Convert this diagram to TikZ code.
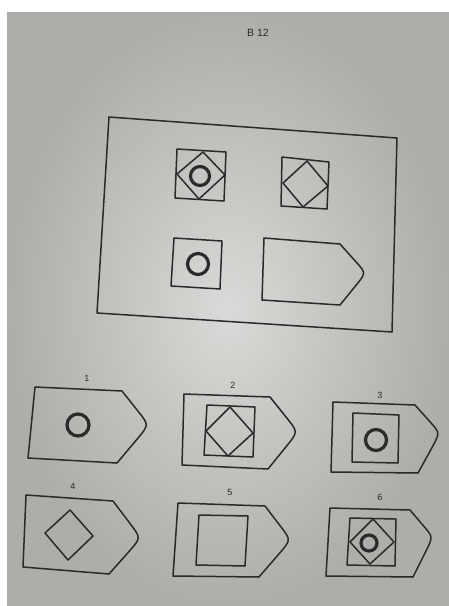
\documentclass[tikz,border=0pt]{standalone}
\usepackage{fontspec}
\setmainfont{Liberation Sans}
\usetikzlibrary{calc}
\definecolor{ink}{HTML}{2A2A2A}
\definecolor{paperin}{HTML}{DADAD8}
\definecolor{paperout}{HTML}{ACAEA9}
\tikzset{
  fig/.style={draw=ink, line width=1.5pt, line join=round},
  ring/.style={draw=ink, line width=3.2pt},
  lbl/.style={text=ink, font=\fontsize{9}{10}\selectfont, inner sep=0pt},
}
% pentagon: TL, TR, tip, BR, BL
\newcommand\pentshape[5]{%
  \draw[fig] #1 -- #2 -- ($#2!0.62!#3$) .. controls #3 .. ($#4!0.62!#3$) -- #4 -- #5 -- cycle;}
\begin{document}
\begin{tikzpicture}[x=1pt,y=-1pt]
\useasboundingbox (0,0) rectangle (449,606);
\fill[white] (0,0) rectangle (449,606);
\shade[inner color=paperin, outer color=paperout] (7,12) rectangle (449,606);
\node[lbl, font=\fontsize{10.5}{12}\selectfont] (title) at (258,33) {B 12};
% main frame
\draw[fig] (109,117) -- (397,138) -- (392,332) -- (97,313) -- cycle;
% top-left item
\draw[fig] (177,149) -- (226,152) -- (224,201) -- (175,198) -- cycle;
\draw[fig] (203,152) -- (225,175) -- (199,199) -- (177,174) -- cycle;
\draw[ring] (200,176) circle[radius=9.5pt];
% top-right item
\draw[fig] (282,157) -- (329,162) -- (327,209) -- (281,206) -- cycle;
\draw[fig] (307,161) -- (328,186) -- (303,207) -- (283,183) -- cycle;
% bottom-left item
\draw[fig] (174,238) -- (222,241) -- (220,289) -- (171,286) -- cycle;
\draw[ring] (198,264) circle[radius=10.5pt];
% bottom-right item
\pentshape{(264,238)}{(340,244)}{(366,273)}{(340,305)}{(262,300)}
% answer 1
\node[lbl] (l1) at (87,378) {1};
\pentshape{(35,387)}{(122,391)}{(149,425)}{(117,463)}{(28,458)}
\draw[ring] (78,425) circle[radius=11pt];
% answer 2
\node[lbl] (l2) at (233,385) {2};
\pentshape{(184,394)}{(270,397)}{(298,432)}{(268,469)}{(182,465)}
\draw[fig] (207,405) -- (255,407) -- (253,457) -- (204,455) -- cycle;
\draw[fig] (230,407) -- (253,433) -- (228,456) -- (206,431) -- cycle;
% answer 3
\node[lbl] (l3) at (380,395) {3};
\pentshape{(333,402)}{(415,405)}{(440,433)}{(418,473)}{(331,472)}
\draw[fig] (353,413) -- (399,415) -- (398,463) -- (352,462) -- cycle;
\draw[ring] (376,440) circle[radius=10.5pt];
% answer 4
\node[lbl] (l4) at (73,486) {4};
\pentshape{(26,495)}{(113,501)}{(141,538)}{(109,574)}{(23,567)}
\draw[fig] (70,510) -- (93,536) -- (68,560) -- (45,533) -- cycle;
% answer 5
\node[lbl] (l5) at (230,492) {5};
\pentshape{(178,503)}{(265,506)}{(291,540)}{(259,577)}{(173,576)}
\draw[fig] (199,515) -- (248,516) -- (245,566) -- (196,565) -- cycle;
% answer 6
\node[lbl] (l6) at (380,497) {6};
\pentshape{(330,508)}{(410,510)}{(433,537)}{(413,577)}{(326,576)}
\draw[fig] (350,518) -- (396,519) -- (395,566) -- (347,565) -- cycle;
\draw[fig] (373,519) -- (394,542) -- (370,564) -- (350,542) -- cycle;
\draw[ring] (369,543) circle[radius=8pt];
\end{tikzpicture}
\end{document}
